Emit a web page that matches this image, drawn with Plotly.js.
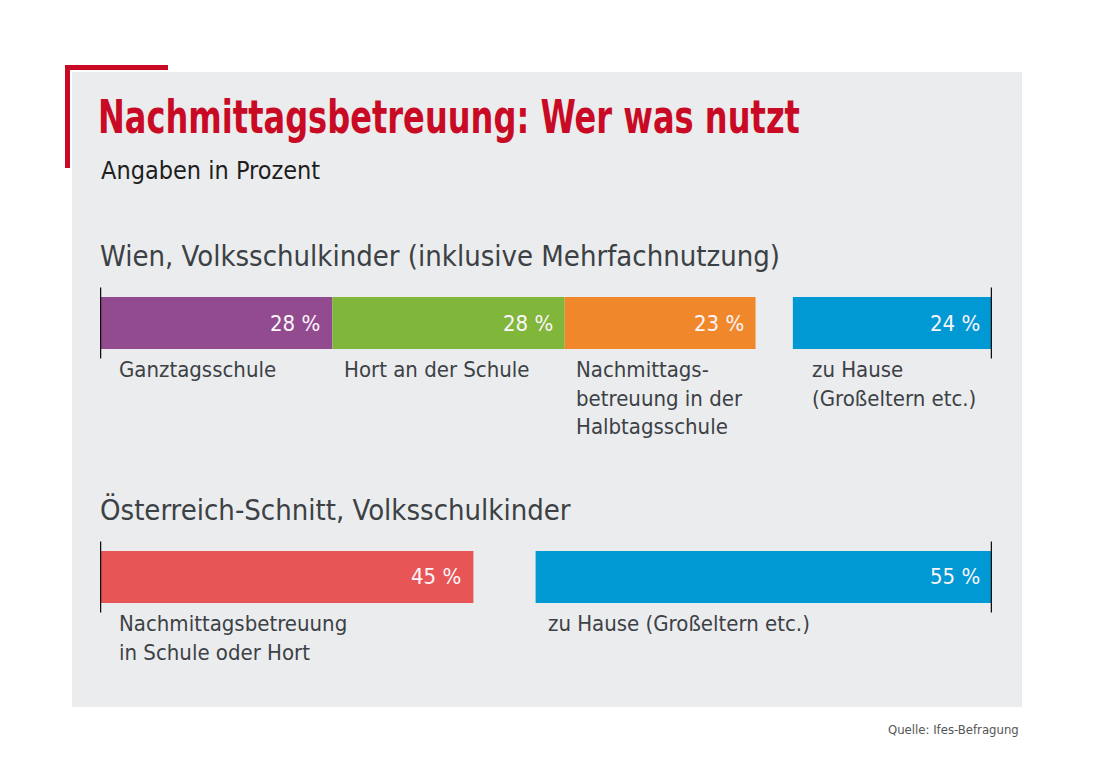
<!DOCTYPE html>
<html><head><meta charset="utf-8">
<script src="https://cdn.plot.ly/plotly-3.0.1.min.js"></script>
<style>html,body{margin:0;padding:0;background:#fff;}#chart{width:1094px;height:780px;}</style>
</head><body><div id="chart"></div>
<script>
// ---- data ----
const wienCategories = ["Ganztagsschule", "Hort an der Schule", "Nachmittags-<br>betreuung in der<br>Halbtagsschule", "zu Hause<br>(Großeltern etc.)"];
const wienValues = [28, 28, 23, 24];
const oeCategories = ["Nachmittagsbetreuung<br>in Schule oder Hort", "zu Hause (Großeltern etc.)"];
const oeValues = [45, 55];
const rowTitles = ["Wien, Volksschulkinder (inklusive Mehrfachnutzung)", "Österreich-Schnitt, Volksschulkinder"];

// ---- style ----
const wienColors = ["#934b8f", "#80b63a", "#f0882b", "#0099d3"];
const oeColors = ["#e85557", "#0099d3"];
const wienLabelShift = [18, 11, 10, 18];
const oeLabelShift = [18, 11];
const AXMAX = 107.5;
const NARROW = "'Liberation Sans Narrow', 'DejaVu Sans Condensed', 'Arial Narrow', sans-serif";
const TXT = "#3c4146";

function bases(vals) {
  const b = []; let acc = 0;
  vals.forEach((v, i) => {
    if (i === vals.length - 1) b.push(AXMAX - v); else { b.push(acc); acc += v; }
  });
  return b;
}

const rows = [
  {cats: wienCategories, vals: wienValues, colors: wienColors, shifts: wienLabelShift},
  {cats: oeCategories, vals: oeValues, colors: oeColors, shifts: oeLabelShift}
];

const traces = [];
const annotations = [];
const shapes = [];

// background panel and red accent
shapes.push({type: "rect", xref: "paper", yref: "paper", layer: "below",
  x0: (72 - 100) / 892, x1: (1022 - 100) / 892, y0: (700 - 707) / 500, y1: (700 - 72) / 500,
  fillcolor: "#ebeced", line: {width: 0}});
shapes.push({type: "rect", xref: "paper", yref: "paper", layer: "below",
  x0: (65 - 100) / 892, x1: (168 - 100) / 892, y0: (700 - 70) / 500, y1: (700 - 65) / 500,
  fillcolor: "#c90a25", line: {width: 0}});
shapes.push({type: "rect", xref: "paper", yref: "paper", layer: "below",
  x0: (65 - 100) / 892, x1: (70 - 100) / 892, y0: (700 - 168) / 500, y1: (700 - 65) / 500,
  fillcolor: "#c90a25", line: {width: 0}});

rows.forEach((r, ri) => {
  const b = bases(r.vals);
  traces.push({
    type: "bar", orientation: "h",
    x: r.vals, base: b, y: r.vals.map(() => ri),
    width: 0.205,
    marker: {color: r.colors, line: {width: 0}},
    hoverinfo: "skip", showlegend: false
  });
  r.vals.forEach((v, i) => {
    annotations.push({x: b[i] + v, y: ri, xref: "x", yref: "y", text: v + " %",
      xanchor: "right", yanchor: "middle", xshift: -10, showarrow: false,
      font: {family: NARROW, size: 22, color: "#fbf5fb"}});
    annotations.push({x: b[i], y: ri + 0.125, xref: "x", yref: "y", text: r.cats[i],
      xanchor: "left", yanchor: "top", align: "left", xshift: r.shifts[i] - 1, showarrow: false,
      font: {family: NARROW, size: 22, color: TXT}});
  });
  annotations.push({x: 0, y: ri - 0.262, xref: "x", yref: "y", text: rowTitles[ri],
    xanchor: "left", yanchor: "middle", xshift: -2, showarrow: false,
    font: {family: NARROW, size: 29, color: TXT}});
  [0, AXMAX].forEach(xv => {
    shapes.push({type: "line", xref: "x", yref: "y", x0: xv, x1: xv, y0: ri - 0.14, y1: ri + 0.14,
      line: {color: "#111", width: 2.5}});
  });
});

annotations.push({xref: "paper", yref: "paper", x: 0, y: (700 - 171) / 500, text: "Angaben in Prozent",
  xanchor: "left", yanchor: "middle", xshift: -1, showarrow: false,
  font: {family: NARROW, size: 25, color: "#1e1e1e"}});
annotations.push({xref: "paper", yref: "paper", x: 1, y: (700 - 729) / 500, text: "Quelle: Ifes-Befragung",
  xanchor: "right", yanchor: "middle", xshift: 29, showarrow: false,
  font: {family: NARROW, size: 13, color: "#555"}});

const layout = {
  width: 1094, height: 780,
  margin: {l: 100, r: 102, t: 200, b: 80, pad: 0},
  paper_bgcolor: "#ffffff", plot_bgcolor: "rgba(0,0,0,0)",
  title: {text: "<b>Nachmittagsbetreuung: Wer was nutzt</b>", x: 98 / 1094, xanchor: "left",
    y: 1 - 117 / 780, yanchor: "middle", yref: "container",
    font: {family: NARROW, size: 46, color: "#c90a25"}},
  xaxis: {range: [0, AXMAX], visible: false, fixedrange: true},
  yaxis: {range: [1.4843, -0.4843], visible: false, fixedrange: true},
  barmode: "overlay",
  shapes: shapes, annotations: annotations
};

Plotly.newPlot("chart", traces, layout, {displayModeBar: false, staticPlot: true}).then(gd => {
  // condense the title horizontally to mimic the condensed headline face
  const t = gd.querySelector(".gtitle");
  if (t) {
    const bb = t.getBBox();
    const target = 702;
    const s = Math.min(1, target / bb.width);
    const x0 = bb.x;
    t.setAttribute("transform", "translate(" + x0 + ",0) scale(" + s + ",1) translate(" + (-x0) + ",0)");
  }
});
</script></body></html>
